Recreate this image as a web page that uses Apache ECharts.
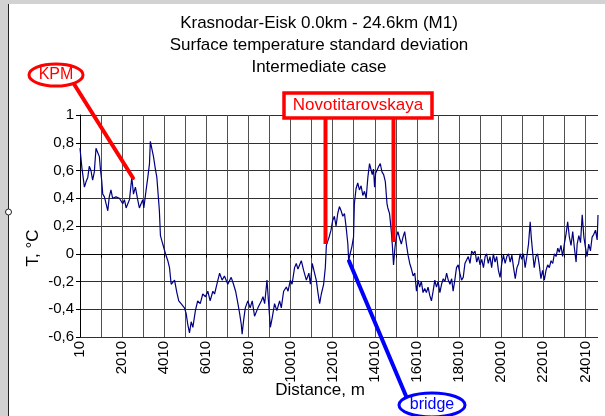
<!DOCTYPE html>
<html>
<head>
<meta charset="utf-8">
<script src="https://cdn.jsdelivr.net/npm/echarts@6/dist/echarts.min.js"></script>
<style>
  html, body { margin: 0; padding: 0; background: #fff; }
  #chart { width: 605px; height: 416px; }
</style>
</head>
<body>
<div id="chart"></div>
<script>
// distance along the road, m
const distance = [
  10, 100, 220, 300, 380, 450, 530, 610, 690, 770, 850, 930, 980, 1040, 1090, 1170, 1250, 1330, 1400, 1480,
  1560, 1720, 1880, 2040, 2120, 2200, 2280, 2360, 2470, 2550, 2640, 2750, 2830, 2910, 2990, 3040, 3100, 3150,
  3230, 3310, 3350, 3430, 3500, 3590, 3660, 3740, 3780, 3830, 3940, 4070, 4180, 4260, 4340, 4500, 4610, 4700,
  4810, 4970, 5050, 5130, 5210, 5290, 5370, 5490, 5600, 5720, 5840, 5970, 6080, 6190, 6320, 6400, 6510, 6640,
  6760, 6870, 7030, 7190, 7300, 7400, 7510, 7590, 7670, 7710, 7780, 7860, 7980, 8090, 8190, 8300, 8460, 8620,
  8700, 8780, 8890, 8970, 9050, 9140, 9250, 9360, 9490, 9570, 9680, 9810, 9890, 10000, 10080, 10200, 10280,
  10360, 10520, 10630, 10760, 10880, 10950, 11040, 11150, 11230, 11310, 11390, 11470, 11580, 11660, 11710,
  11840, 11930, 12010, 12090, 12170, 12250, 12330, 12410, 12490, 12570, 12650, 12730, 12770, 12840, 12920,
  13000, 13040, 13120, 13200, 13280, 13360, 13440, 13520, 13600, 13680, 13760, 13840, 13890, 13950, 14000,
  14050, 14110, 14200, 14270, 14350, 14430, 14510, 14590, 14630, 14710, 14790, 14840, 14900, 14970, 15030,
  15110, 15190, 15270, 15350, 15430, 15510, 15590, 15670, 15750, 15830, 15910, 15990, 16070, 16140, 16220,
  16300, 16380, 16460, 16540, 16620, 16700, 16780, 16860, 16940, 17020, 17100, 17180, 17260, 17340, 17420,
  17500, 17580, 17660, 17730, 17810, 17890, 17970, 18050, 18130, 18210, 18290, 18370, 18450, 18530, 18610,
  18690, 18770, 18850, 18930, 19010, 19090, 19170, 19250, 19320, 19400, 19480, 19560, 19640, 19720, 19800,
  19880, 19960, 20040, 20120, 20200, 20280, 20360, 20440, 20520, 20600, 20680, 20760, 20840, 20910, 20990,
  21070, 21150, 21230, 21310, 21390, 21440, 21500, 21580, 21660, 21740, 21820, 21900, 21980, 22060, 22140,
  22220, 22300, 22380, 22460, 22540, 22620, 22700, 22770, 22850, 22930, 23010, 23090, 23170, 23250, 23330,
  23410, 23490, 23570, 23620, 23700, 23780, 23860, 23940, 24010, 24090, 24170, 24250, 24330, 24410, 24490,
  24570, 24610
];

// surface temperature standard deviation, °C
const tempStd = [
  0.76, 0.62, 0.48, 0.52, 0.55, 0.63, 0.60, 0.53, 0.59, 0.76, 0.73, 0.70, 0.61, 0.53, 0.43, 0.41, 0.36, 0.31, 0.41, 0.46,
  0.40, 0.41, 0.40, 0.36, 0.39, 0.33, 0.36, 0.39, 0.55, 0.43, 0.48, 0.39, 0.33, 0.36, 0.39, 0.33, 0.40, 0.46,
  0.55, 0.65, 0.81, 0.81, 0.70, 0.61, 0.55, 0.39, 0.31, 0.13, 0.07, 0.00, -0.05, -0.10, -0.22, -0.19, -0.28, -0.34,
  -0.36, -0.39, -0.43, -0.51, -0.57, -0.49, -0.53, -0.41, -0.34, -0.36, -0.29, -0.31, -0.27, -0.34, -0.27, -0.29, -0.22, -0.14,
  -0.19, -0.16, -0.22, -0.17, -0.22, -0.27, -0.36, -0.43, -0.51, -0.58, -0.48, -0.39, -0.34, -0.39, -0.34, -0.45, -0.39, -0.34,
  -0.31, -0.36, -0.19, -0.36, -0.53, -0.46, -0.36, -0.41, -0.34, -0.39, -0.27, -0.24, -0.27, -0.19, -0.22, -0.10, -0.07,
  -0.11, -0.05, -0.12, -0.19, -0.14, -0.22, -0.07, -0.14, -0.19, -0.28, -0.36, -0.29, -0.22, -0.10, 0.06,
  0.12, 0.17, 0.24, 0.27, 0.20, 0.29, 0.34, 0.31, 0.27, 0.29, 0.19, 0.07, -0.05, 0.00, 0.05,
  0.12, 0.36, 0.47, 0.51, 0.46, 0.49, 0.42, 0.45, 0.40, 0.55, 0.65, 0.60, 0.57, 0.61, 0.48,
  0.58, 0.59, 0.63, 0.65, 0.59, 0.57, 0.52, 0.36, 0.33, 0.29, 0.17, 0.07, -0.08, 0.05, 0.12,
  0.16, 0.11, 0.07, 0.12, 0.16, 0.07, -0.01, -0.07, -0.11, -0.16, -0.14, -0.27, -0.19, -0.24, -0.20,
  -0.28, -0.25, -0.28, -0.24, -0.30, -0.34, -0.27, -0.19, -0.24, -0.20, -0.28, -0.22, -0.18, -0.20, -0.14,
  -0.19, -0.22, -0.18, -0.27, -0.19, -0.10, -0.08, -0.14, -0.19, -0.17, -0.07, -0.06, -0.02, -0.07, 0.02,
  0.00, 0.02, -0.06, -0.02, -0.08, -0.04, -0.10, -0.02, 0.00, -0.07, -0.02, -0.10, 0.00, -0.06, -0.02,
  -0.12, -0.17, -0.07, -0.01, -0.07, -0.02, 0.00, -0.06, -0.01, -0.10, -0.18, -0.10, -0.07, 0.00, -0.04,
  0.00, -0.10, -0.02, 0.07, 0.23, 0.12, 0.02, -0.10, -0.02, 0.00, -0.08, -0.18, -0.12, -0.19, -0.12,
  -0.08, -0.10, -0.05, -0.07, 0.00, -0.02, 0.04, 0.01, 0.06, -0.02, 0.07, 0.14, 0.23, 0.12, 0.06,
  0.16, 0.04, -0.06, 0.07, 0.13, 0.08, 0.28, 0.12, 0.05, -0.02, 0.07, 0.02, 0.12, 0.14, 0.17,
  0.10, 0.28
];

// x axis: grid lines every 1000 m, labels every 2000 m (Excel category style)
const xTickValues = [
  10, 1010, 2010, 3010, 4010, 5010, 6010, 7010, 8010, 9010, 10010, 11010, 12010,
  13010, 14010, 15010, 16010, 17010, 18010, 19010, 20010, 21010, 22010, 23010, 24010
];
const xLabelValues = [10, 2010, 4010, 6010, 8010, 10010, 12010, 14010, 16010, 18010, 20010, 22010, 24010];

const titleLines = [
  "Krasnodar-Eisk 0.0km - 24.6km (M1)",
  "Surface temperature standard deviation",
  "Intermediate case",
];

const font = "'Liberation Sans', Arial, sans-serif";
const red = "#ff0000";
const blue = "#0000ff";

const chart = echarts.init(document.getElementById("chart"));

chart.setOption({
  animation: false,
  backgroundColor: "#ffffff",
  grid: {
    left: 80,
    right: 7,
    top: 115,
    bottom: 79,
  },
  xAxis: {
    type: "value",
    min: 10,
    max: 24610,
    axisLine: { lineStyle: { color: "#000", width: 1 } },
    axisTick: {
      customValues: xTickValues,
      length: 4,
      lineStyle: { color: "#000" },
    },
    axisLabel: {
      customValues: xLabelValues,
      rotate: 90,
      margin: 4,
      fontSize: 15,
      color: "#000",
      fontFamily: font,
      formatter: (v) => String(v),
    },
    splitLine: { show: true, lineStyle: { color: "#505050", width: 1 } },
  },
  yAxis: {
    type: "value",
    min: -0.6,
    max: 1,
    interval: 0.2,
    axisLine: { show: true, lineStyle: { color: "#000", width: 1 } },
    axisTick: { show: true, length: 4, lineStyle: { color: "#000" } },
    axisLabel: {
      margin: 6,
      fontSize: 15,
      color: "#000",
      fontFamily: font,
      formatter: (v) => String(Math.round(v * 10) / 10).replace(".", ","),
    },
    splitLine: { show: true, lineStyle: { color: "#303030", width: 1 } },
  },
  series: [
    {
      name: "T std",
      type: "line",
      showSymbol: false,
      lineStyle: { color: "#000080", width: 1.2 },
      data: distance.map((d, i) => [d, tempStd[i]]),
    },
  ],
  graphic: [
    // window frame bits
    { type: "rect", shape: { x: 0, y: 0, width: 8, height: 416 }, style: { fill: "#d2d2d2" }, silent: true },
    { type: "rect", shape: { x: 0, y: 0, width: 605, height: 4 }, style: { fill: "#d2d2d2" }, silent: true },
    { type: "line", shape: { x1: 8.5, y1: 4, x2: 8.5, y2: 416 }, style: { stroke: "#222", lineWidth: 1 } },
    { type: "circle", shape: { cx: 8.5, cy: 212, r: 3 }, style: { fill: "#fff", stroke: "#222", lineWidth: 1 } },

    // title
    {
      type: "text",
      x: 319,
      y: 12,
      style: {
        text: titleLines.join("\n"),
        font: "17px " + font,
        lineHeight: 22,
        fill: "#000",
        align: "center",
        verticalAlign: "top",
      },
    },
    // axis names
    {
      type: "text",
      x: 33,
      y: 248,
      rotation: Math.PI / 2,
      style: {
        text: "T, °C",
        font: "17px " + font,
        fill: "#000",
        align: "center",
        verticalAlign: "middle",
      },
    },
    {
      type: "text",
      x: 320,
      y: 390,
      style: {
        text: "Distance, m",
        font: "17px " + font,
        fill: "#000",
        align: "center",
        verticalAlign: "middle",
      },
    },

    // KPM callout
    { type: "line", z: 50, shape: { x1: 74, y1: 84, x2: 133, y2: 178 }, style: { stroke: red, lineWidth: 4, lineCap: "round" } },
    { type: "ellipse", z: 51, shape: { cx: 56, cy: 75, rx: 27, ry: 11 }, style: { fill: "#fff", stroke: red, lineWidth: 3 } },
    {
      type: "text", z: 52, x: 56, y: 75,
      style: { text: "KPM", font: "16px " + font, fill: red, align: "center", verticalAlign: "middle" },
    },

    // Novotitarovskaya callout
    { type: "line", z: 50, shape: { x1: 325.5, y1: 118, x2: 325.5, y2: 244 }, style: { stroke: red, lineWidth: 4 } },
    { type: "line", z: 50, shape: { x1: 393.5, y1: 118, x2: 393.5, y2: 242 }, style: { stroke: red, lineWidth: 4 } },
    { type: "rect", z: 51, shape: { x: 284, y: 93, width: 148, height: 25 }, style: { fill: "#fff", stroke: red, lineWidth: 3.5 } },
    {
      type: "text", z: 52, x: 358, y: 105.5,
      style: { text: "Novotitarovskaya", font: "17px " + font, fill: red, align: "center", verticalAlign: "middle" },
    },

    // bridge callout
    { type: "line", z: 50, shape: { x1: 349, y1: 261, x2: 406, y2: 396 }, style: { stroke: blue, lineWidth: 4, lineCap: "round" } },
    { type: "ellipse", z: 51, shape: { cx: 432, cy: 405, rx: 33, ry: 12 }, style: { fill: "#fff", stroke: blue, lineWidth: 3 } },
    {
      type: "text", z: 52, x: 432, y: 405,
      style: { text: "bridge", font: "16px " + font, fill: blue, align: "center", verticalAlign: "middle" },
    },
  ],
});
</script>
</body>
</html>
